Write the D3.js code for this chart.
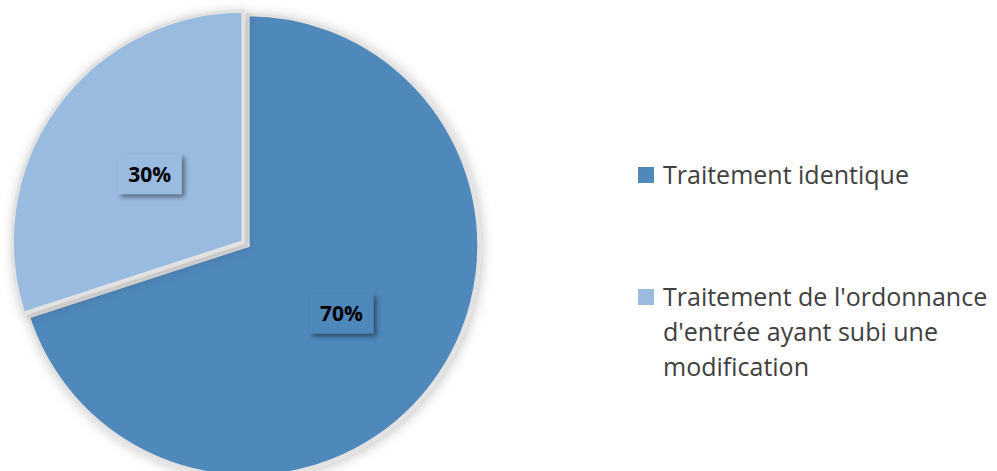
<!DOCTYPE html>
<html>
<head>
<meta charset="utf-8">
<script src="https://cdn.jsdelivr.net/npm/d3@7"></script>
<style>
	html, body { margin: 0; padding: 0; background: #fff; }
	svg { display: block; }
</style>
</head>
<body>
<svg id="chart" width="997" height="471"></svg>
<script>
(function(d3) {
	'use strict';

	var categories = ['Traitement identique', "Traitement de l'ordonnance d'entrée ayant subi une modification"];
	var values = [70, 30];
	var legendLines = [['Traitement identique'], ["Traitement de l'ordonnance", "d'entrée ayant subi une", 'modification']];
	var colors = ['#4f88bb', '#9abbe0'];
	var exploded = [0, 6];

	var svg = d3.select('#chart');
	var cx = 248, cy = 245.5, radius = 231;

	/** filters */
	var defs = svg.append('defs');
	var glow = defs.append('filter').attr('id', 'glow')
		.attr('x', '-20%').attr('y', '-20%').attr('width', '140%').attr('height', '140%');
	glow.append('feDropShadow').attr('dx', 2).attr('dy', 2).attr('stdDeviation', 6)
		.attr('flood-color', '#000').attr('flood-opacity', 0.22);
	var boxShadow = defs.append('filter').attr('id', 'boxShadow')
		.attr('x', '-30%').attr('y', '-30%').attr('width', '160%').attr('height', '160%');
	boxShadow.append('feDropShadow').attr('dx', 3).attr('dy', 3).attr('stdDeviation', 2.5)
		.attr('flood-color', '#000').attr('flood-opacity', 0.45);

	/** pie */
	var pie = d3.pie().sort(null).startAngle(0).endAngle(2 * Math.PI);
	var arcs = pie(values);
	var arc = d3.arc().innerRadius(0).outerRadius(radius);
	var labelArc = d3.arc().innerRadius(radius * 0.5).outerRadius(radius * 0.5);

	var offset = function(d, i) {
		var mid = (d.startAngle + d.endAngle) / 2;
		return [Math.sin(mid) * exploded[i], -Math.cos(mid) * exploded[i]];
	};

	var g = svg.append('g').attr('transform', 'translate(' + cx + ',' + cy + ')');
	var slices = g.selectAll('g.slice').data(arcs).enter().append('g')
		.attr('class', 'slice')
		.attr('transform', function(d, i) {
			var o = offset(d, i);
			return 'translate(' + o[0] + ',' + o[1] + ')';
		});

	slices.append('path')
		.attr('d', arc)
		.attr('fill', function(d, i) { return colors[i]; })
		.attr('stroke', '#e2e2e2')
		.attr('stroke-width', 3.5)
		.attr('stroke-linejoin', 'miter')
		.attr('filter', 'url(#glow)');

	/** labels */
	var boxW = 64, boxH = 40;
	var labels = slices.append('g').attr('transform', function(d) {
		var c = labelArc.centroid(d);
		return 'translate(' + c[0] + ',' + c[1] + ')';
	});
	labels.append('rect')
		.attr('x', -boxW / 2).attr('y', -boxH / 2)
		.attr('width', boxW).attr('height', boxH)
		.attr('fill', function(d, i) { return colors[i]; })
		.attr('filter', 'url(#boxShadow)');
	labels.append('text')
		.attr('text-anchor', 'middle')
		.attr('dy', '0.36em')
		.attr('font-family', '"Open Sans", sans-serif')
		.attr('font-weight', 'bold')
		.attr('font-size', 21)
		.attr('fill', '#000')
		.text(function(d) { return d.data + '%'; });

	/** legend */
	var legendY = [175, 297];
	var legend = svg.append('g').selectAll('g').data(categories).enter().append('g')
		.attr('transform', function(d, i) { return 'translate(638,' + legendY[i] + ')'; });
	legend.append('rect')
		.attr('x', 0).attr('y', -8).attr('width', 16).attr('height', 16)
		.attr('fill', function(d, i) { return colors[i]; });
	legend.append('text')
		.attr('x', 25)
		.attr('font-family', '"Open Sans", sans-serif')
		.attr('font-size', 25)
		.attr('fill', '#404040')
		.selectAll('tspan').data(function(d, i) { return legendLines[i]; }).enter().append('tspan')
		.attr('x', 25)
		.attr('y', function(d, j) { return 9 + j * 35; })
		.text(function(d) { return d; });
})(d3);
</script>
</body>
</html>
